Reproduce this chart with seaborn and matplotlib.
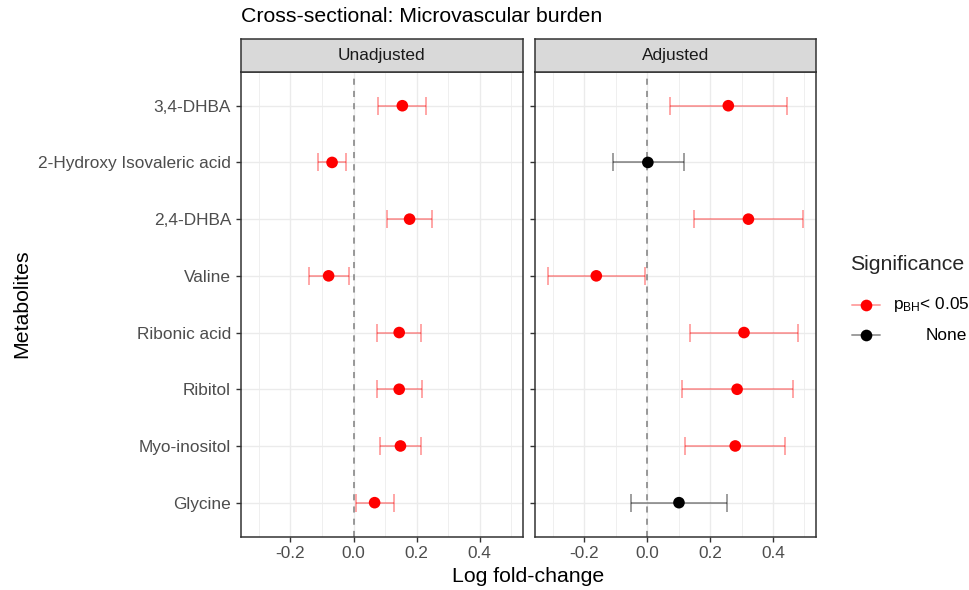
import pandas as pd
import matplotlib.pyplot as plt
import seaborn as sns
from matplotlib.lines import Line2D
from matplotlib.ticker import MultipleLocator

# --- data ---
metabolites = ["3,4-DHBA", "2-Hydroxy Isovaleric acid", "2,4-DHBA", "Valine",
               "Ribonic acid", "Ribitol", "Myo-inositol", "Glycine"]
panels = ["Unadjusted", "Adjusted"]

unadj_est = [0.155, -0.068, 0.178, -0.079, 0.145, 0.145, 0.149, 0.067]
unadj_lo = [0.078, -0.113, 0.107, -0.141, 0.075, 0.073, 0.083, 0.008]
unadj_hi = [0.231, -0.023, 0.249, -0.015, 0.215, 0.217, 0.214, 0.130]
unadj_sig = ["p<0.05"] * 8

adj_est = [0.258, 0.002, 0.322, -0.162, 0.308, 0.286, 0.280, 0.101]
adj_lo = [0.071, -0.110, 0.149, -0.316, 0.137, 0.111, 0.121, -0.053]
adj_hi = [0.445, 0.116, 0.497, -0.008, 0.480, 0.464, 0.439, 0.255]
adj_sig = ["p<0.05", "None", "p<0.05", "p<0.05", "p<0.05", "p<0.05", "p<0.05", "None"]

df = pd.concat([
    pd.DataFrame({"metabolite": metabolites, "est": unadj_est, "lo": unadj_lo,
                  "hi": unadj_hi, "sig": unadj_sig, "model": "Unadjusted"}),
    pd.DataFrame({"metabolite": metabolites, "est": adj_est, "lo": adj_lo,
                  "hi": adj_hi, "sig": adj_sig, "model": "Adjusted"}),
], ignore_index=True)
df["ypos"] = df["metabolite"].map({m: i for i, m in enumerate(metabolites)})

point_col = {"p<0.05": "#FF0000", "None": "#000000"}
bar_col = {"p<0.05": (1, 0, 0, 0.35), "None": (0, 0, 0, 0.38)}

# --- style ---
sns.set_theme(style="whitegrid")
plt.rcParams["font.family"] = ["Liberation Sans", "DejaVu Sans"]
plt.rcParams["mathtext.fontset"] = "custom"
plt.rcParams["mathtext.rm"] = "Liberation Sans"
plt.rcParams["mathtext.it"] = "Liberation Sans"

W, H = 969, 590
fig = plt.figure(figsize=(W / 100, H / 100), dpi=100)


def fx(px):
    return px / W


def fy(py):
    return 1 - py / H


ax_top, ax_bot = 71.7, 536.7
strip_top = 39.3
lefts = [(240.7, 522.7), (534.7, 816.0)]

for i, (name, (x0, x1)) in enumerate(zip(panels, lefts)):
    ax = fig.add_axes([fx(x0), fy(ax_bot), fx(x1 - x0), (ax_bot - ax_top) / H])
    sub = df[df["model"] == name]

    ax.axvline(0, color="#7F7F7F", lw=1.1, ls=(0, (4, 4)), zorder=1)
    for sig, g in sub.groupby("sig"):
        ax.errorbar(g["est"], g["ypos"], xerr=[g["est"] - g["lo"], g["hi"] - g["est"]],
                    fmt="none", ecolor=bar_col[sig], elinewidth=1.4,
                    capsize=6.5, capthick=1.4, zorder=2)
    sns.scatterplot(data=sub, x="est", y="ypos", hue="sig", palette=point_col,
                    s=70, linewidth=0, legend=False, ax=ax, zorder=3)

    ax.set_xlim(-0.358, 0.537)
    ax.set_ylim(len(metabolites) - 0.4, -0.6)
    ax.xaxis.set_major_locator(MultipleLocator(0.2))
    ax.xaxis.set_minor_locator(MultipleLocator(0.1))
    ax.set_xticks([-0.2, 0.0, 0.2, 0.4])
    ax.set_xticklabels(["-0.2", "0.0", "0.2", "0.4"])
    ax.set_yticks(range(len(metabolites)))
    if i == 0:
        ax.set_yticklabels(metabolites)
    else:
        ax.set_yticklabels([])
    ax.set_xlabel("")
    ax.set_ylabel("")

    ax.grid(which="major", color="#EBEBEB", lw=1.0)
    ax.grid(which="minor", axis="x", color="#EBEBEB", lw=0.55)
    ax.set_axisbelow(True)
    ax.tick_params(axis="both", which="major", length=3.9, width=1.0, color="#333333",
                   labelsize=12.4, labelcolor="#4D4D4D", pad=3, bottom=True, left=True)
    ax.tick_params(axis="x", which="minor", length=0)
    for s in ax.spines.values():
        s.set_visible(True)
        s.set_color("#333333")
        s.set_linewidth(1.1)

    # facet strip
    sax = fig.add_axes([fx(x0), fy(ax_top), fx(x1 - x0), (ax_top - strip_top) / H])
    sax.set_facecolor("#D9D9D9")
    sax.set_xticks([])
    sax.set_yticks([])
    sax.grid(False)
    for s in sax.spines.values():
        s.set_visible(True)
        s.set_color("#333333")
        s.set_linewidth(1.1)
    sax.text(0.5, 0.5, name, ha="center", va="center", fontsize=12.4,
             color="#1A1A1A", transform=sax.transAxes)

# titles
fig.text(fx(240.7), fy(17), "Cross-sectional: Microvascular burden",
         fontsize=15.3, ha="left", va="center", color="black")
fig.text(fx(528.4), fy(577), "Log fold-change", fontsize=15.3,
         ha="center", va="center", color="black")
fig.text(fx(22), fy(304), "Metabolites", fontsize=15.3, rotation=90,
         ha="center", va="center", color="black")

# legend drawn by hand
fig.text(fx(850), fy(265), "Significance", fontsize=15.3, ha="left", va="center")
for yk, sig, lab, ha, xt in [(305, "p<0.05", r"p$_{\mathrm{BH}}$< 0.05", "left", 893),
                             (335, "None", "None", "right", 967)]:
    fig.add_artist(Line2D([fx(852), fx(880)], [fy(yk), fy(yk)], transform=fig.transFigure,
                          color=bar_col[sig], lw=1.4))
    fig.add_artist(Line2D([fx(866)], [fy(yk)], transform=fig.transFigure, marker="o",
                          markersize=8.4, markeredgewidth=0, color=point_col[sig]))
    fig.text(fx(xt), fy(yk), lab, fontsize=12.4, ha=ha, va="center", color="black")

fig.savefig("out.png", dpi=100)
